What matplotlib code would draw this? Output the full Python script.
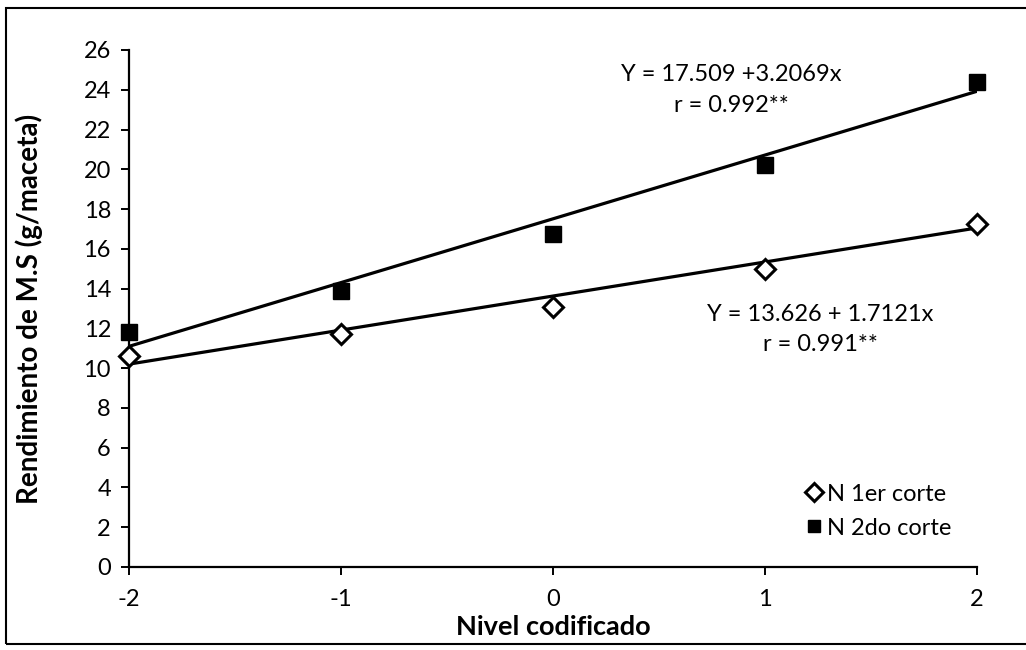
import numpy as np
import matplotlib.pyplot as plt
from matplotlib.patches import Rectangle

plt.rcParams['font.family'] = ['Lato', 'DejaVu Sans']

# Coded levels and dry matter yield per pot
nivel = [-2, -1, 0, 1, 2]
corte1 = [10.6, 11.7, 13.1, 15.0, 17.25]
corte2 = [11.8, 13.9, 16.75, 20.2, 24.4]

# Fitted regressions
a1, b1 = 13.626, 1.7121
a2, b2 = 17.509, 3.2069
yticks = list(range(0, 27, 2))

fig = plt.figure(figsize=(10.26, 6.5), dpi=100)
ax = fig.add_axes([0.1257, 0.1277, 0.8265, 0.7954])

xs = np.array([-2, 2])
ax.plot(xs, a2 + b2 * xs, color='black', lw=2.3, zorder=2)
ax.plot(xs, a1 + b1 * xs, color='black', lw=2.3, zorder=2)

ax.plot(nivel, corte1, linestyle='none', marker='D', ms=10, mfc='white',
        mec='black', mew=2.2, label='N 1er corte', zorder=3, clip_on=False)
ax.plot(nivel, corte2, linestyle='none', marker='s', ms=11.5, mfc='black',
        mec='black', label='N 2do corte', zorder=3, clip_on=False)

ax.set_xlim(-2, 2)
ax.set_ylim(0, 26)
ax.set_xticks(nivel)
ax.set_xticklabels(['-2', '-1', '0', '1', '2'])
ax.set_yticks(yticks)
ax.tick_params(axis='y', labelsize=17, direction='out', length=6,
               width=1.4, pad=7)
ax.tick_params(axis='x', labelsize=17, direction='out', length=6,
               width=1.4, pad=10)
ax.spines['top'].set_visible(False)
ax.spines['right'].set_visible(False)
ax.spines['left'].set_linewidth(1.6)
ax.spines['bottom'].set_linewidth(1.6)

ax.set_xlabel('Nivel codificado', fontsize=19.5, fontweight='bold')
ax.set_ylabel('Rendimiento de M.S (g/maceta)', fontsize=20, fontweight='bold')
ax.xaxis.set_label_coords(0.5, -0.092)
ax.yaxis.set_label_coords(-0.101, 0.5)

ax.text(0.84, 24.75, 'Y = 17.509 +3.2069x', fontsize=17, ha='center', va='center')
ax.text(0.84, 23.2, 'r = 0.992**', fontsize=17, ha='center', va='center')
ax.text(1.26, 12.68, 'Y = 13.626 + 1.7121x', fontsize=17, ha='center', va='center')
ax.text(1.26, 11.17, 'r = 0.991**', fontsize=17, ha='center', va='center')

leg = ax.legend(loc='center left', bbox_to_anchor=(0.8, 0.108), frameon=False,
                fontsize=17, handlelength=0.55, handletextpad=0.3,
                labelspacing=0.55, borderaxespad=0, borderpad=0)
for h in leg.legend_handles:
    h.set_markersize(9)

# Frame around the whole figure
fig.patches.append(Rectangle((0.006, 0.009), 1.0, 0.979, transform=fig.transFigure,
                             fill=False, edgecolor='black', lw=1.5))

fig.savefig('out.png', dpi=100)
